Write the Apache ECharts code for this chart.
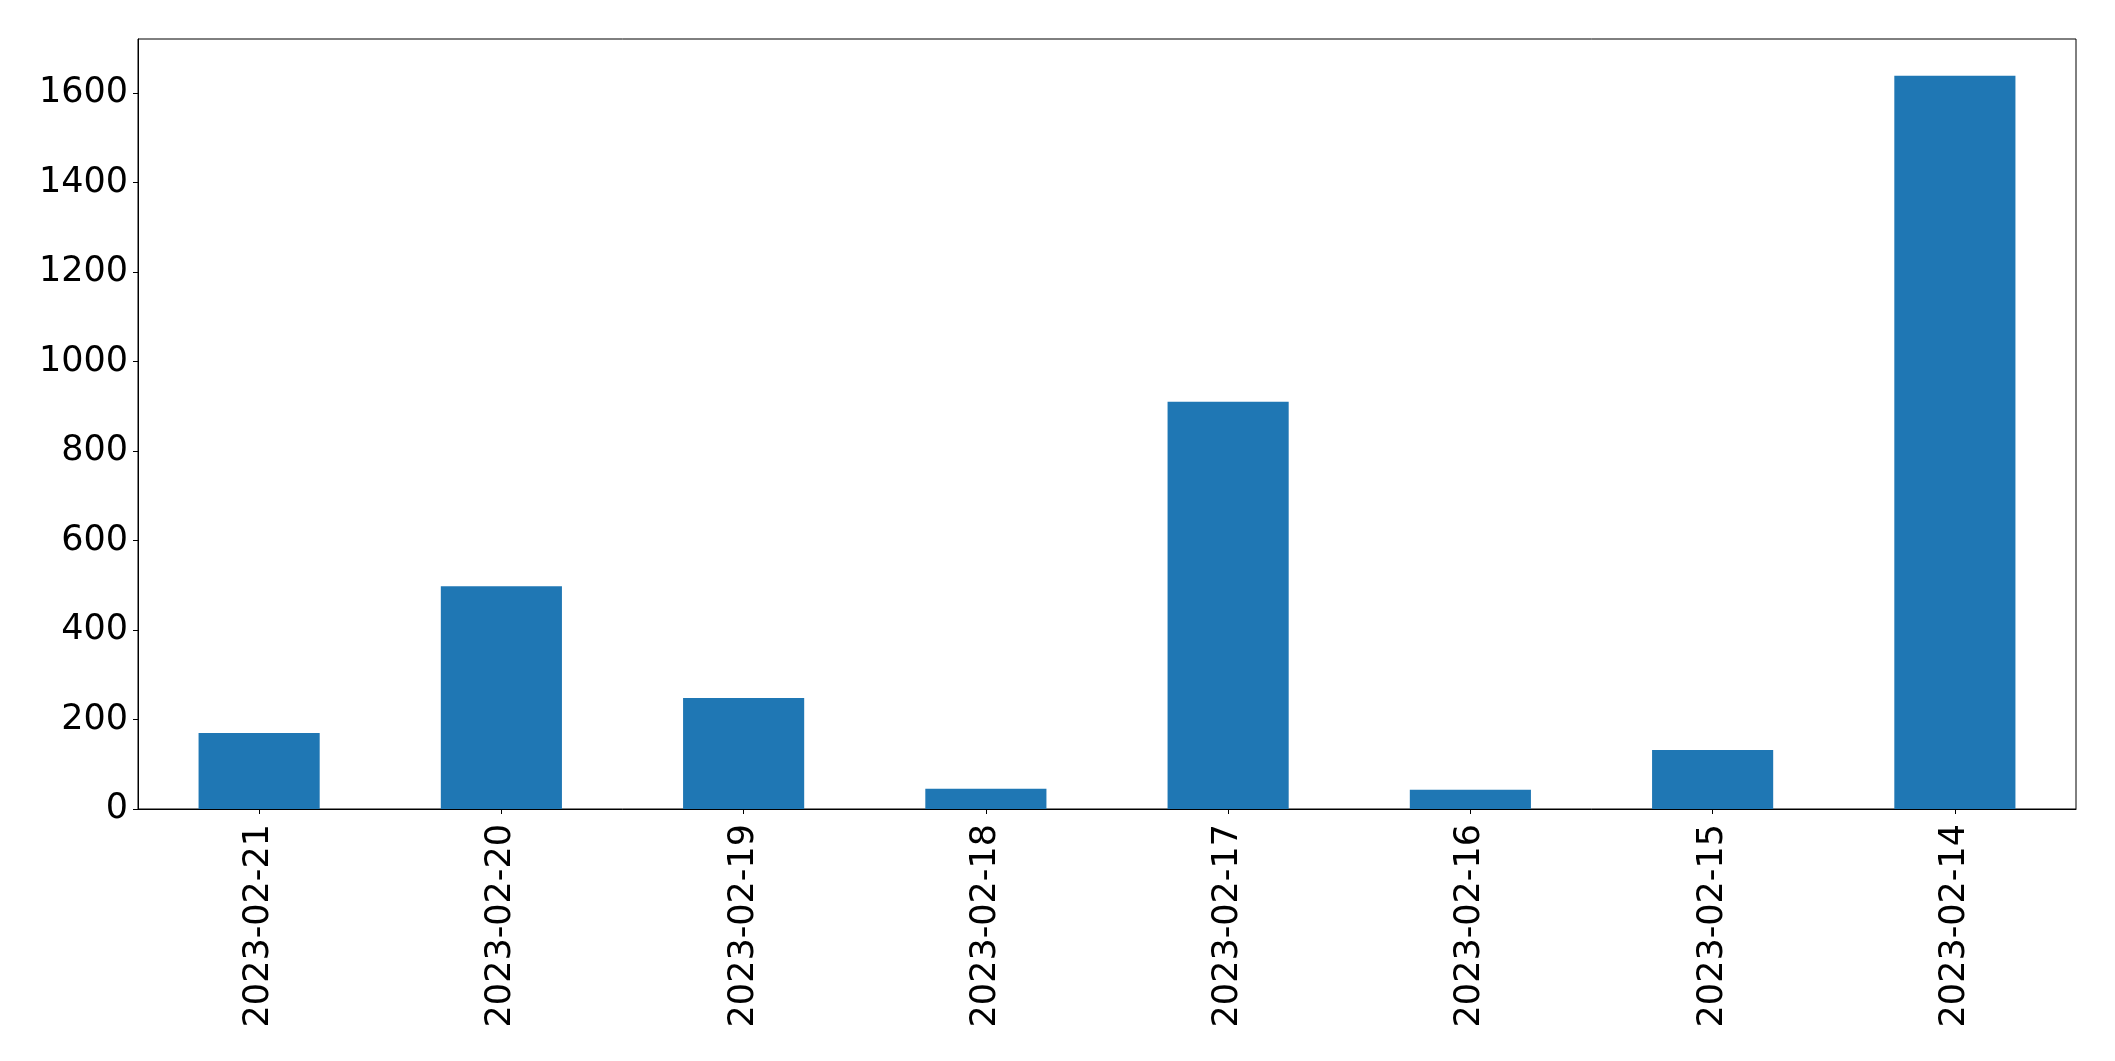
<!DOCTYPE html>
<html>
<head>
<meta charset="utf-8">
<script src="https://cdn.jsdelivr.net/npm/echarts@6/dist/echarts.min.js"></script>
<style>
html,body{margin:0;padding:0;background:#fff;}
#chart{width:2115px;height:1061px;}
</style>
</head>
<body>
<div id="chart"></div>
<script>
const categories = ['2023-02-21','2023-02-20','2023-02-19','2023-02-18','2023-02-17','2023-02-16','2023-02-15','2023-02-14'];
const values = [170, 498, 248, 45, 910, 43, 132, 1639];
const yTicks = [0, 200, 400, 600, 800, 1000, 1200, 1400, 1600];

const chart = echarts.init(document.getElementById('chart'), null, {renderer: 'canvas'});
const font = 'DejaVu Sans';
chart.setOption({
  animation: false,
  backgroundColor: '#ffffff',
  grid: {
    left: 138, right: 39, top: 39, bottom: 252,
    show: true, borderColor: '#000', borderWidth: 1, containLabel: false
  },
  xAxis: {
    type: 'category',
    data: categories,
    boundaryGap: true,
    axisLine: {show: true, lineStyle: {color: '#000', width: 1}},
    axisTick: {show: true, alignWithLabel: true, length: 5, lineStyle: {color: '#000', width: 1}},
    axisLabel: {rotate: 90, fontSize: 35, fontFamily: font, color: '#000', margin: 15, interval: 0},
    splitLine: {show: false}
  },
  yAxis: {
    type: 'value',
    min: 0,
    max: 1721,
    interval: 200,
    axisLine: {show: true, lineStyle: {color: '#000', width: 1}},
    axisTick: {show: true, length: 5, lineStyle: {color: '#000', width: 1}, customValues: yTicks},
    axisLabel: {fontSize: 35, fontFamily: font, color: '#000', margin: 10, customValues: yTicks,
      formatter: function (v) { return String(v); }},
    splitLine: {show: false}
  },
  series: [{
    type: 'bar',
    data: values,
    barWidth: '50%',
    itemStyle: {color: '#1f77b4'}
  }]
});
</script>
</body>
</html>
